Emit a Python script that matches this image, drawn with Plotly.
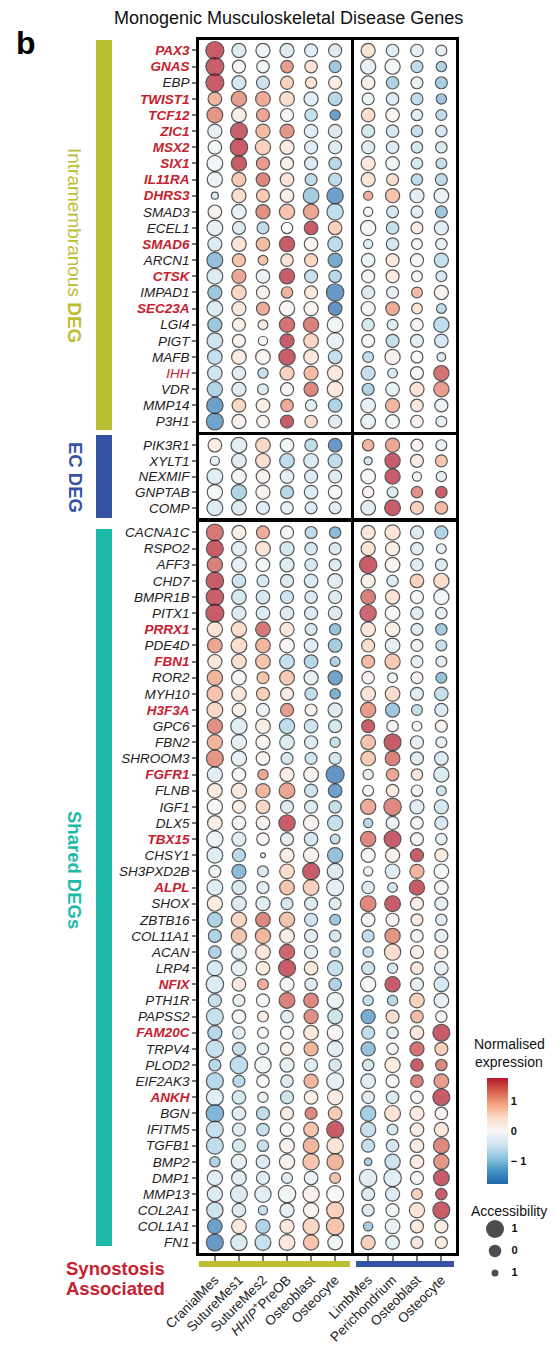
import plotly.graph_objects as go

W, H = 557, 1345

# ---------------- data ----------------
cranial_cells = ["CranialMes", "SutureMes1", "SutureMes2", "HHIP+PreOB", "Osteoblast", "Osteocyte"]
cranial_tick_text = ["CranialMes", "SutureMes1", "SutureMes2", "<i>HHIP</i><sup>+</sup>PreOB", "Osteoblast", "Osteocyte"]
limb_cells = ["LimbMes", "Perichondrium", "Osteoblast", "Osteocyte"]

intra_genes = ["PAX3", "GNAS", "EBP", "TWIST1", "TCF12", "ZIC1", "MSX2", "SIX1", "IL11RA", "DHRS3",
               "SMAD3", "ECEL1", "SMAD6", "ARCN1", "CTSK", "IMPAD1", "SEC23A", "LGI4", "PIGT", "MAFB",
               "IHH", "VDR", "MMP14", "P3H1"]
ec_genes = ["PIK3R1", "XYLT1", "NEXMIF", "GNPTAB", "COMP"]
shared_genes = ["CACNA1C", "RSPO2", "AFF3", "CHD7", "BMPR1B", "PITX1", "PRRX1", "PDE4D", "FBN1", "ROR2",
                "MYH10", "H3F3A", "GPC6", "FBN2", "SHROOM3", "FGFR1", "FLNB", "IGF1", "DLX5", "TBX15",
                "CHSY1", "SH3PXD2B", "ALPL", "SHOX", "ZBTB16", "COL11A1", "ACAN", "LRP4", "NFIX", "PTH1R",
                "PAPSS2", "FAM20C", "TRPV4", "PLOD2", "EIF2AK3", "ANKH", "BGN", "IFITM5", "TGFB1", "BMP2",
                "DMP1", "MMP13", "COL2A1", "COL1A1", "FN1"]

synostosis_genes = ["PAX3", "GNAS", "TWIST1", "TCF12", "ZIC1", "MSX2", "SIX1", "IL11RA", "DHRS3", "SMAD6",
                    "CTSK", "SEC23A", "IHH", "PRRX1", "FBN1", "H3F3A", "FGFR1", "TBX15", "ALPL", "NFIX",
                    "FAM20C", "ANKH"]

# normalised expression, columns: 6 cranial + 4 limb cell types
intra_expr = [
    [2.0, -0.45, -0.15, -0.45, -0.4, -0.45, 0.45, -0.37, -0.3, -0.3],
    [1.72, 0.08, -0.08, 1.18, 0.45, -1.04, -0.3, -0.08, -0.74, -0.9],
    [1.9, -0.52, -0.6, 0.67, 0.45, 0.3, 0.22, -0.9, -0.22, -0.97],
    [0.97, 1.18, 1.04, 0.52, -0.37, -0.82, -0.22, -0.45, -0.74, -1.04],
    [1.25, 0.22, 1.1, 0.08, -0.67, -1.56, 0.52, 0.08, -0.37, -0.74],
    [-0.3, 1.72, 0.9, 1.25, -0.37, -0.45, -0.52, -0.52, -0.67, -0.52],
    [-0.08, 2.0, 0.67, 0.3, -0.37, -0.45, -0.37, -0.45, -0.52, -0.45],
    [-0.15, 1.9, 1.18, 0.22, -0.45, -0.82, 0.37, -0.08, -0.52, -0.67],
    [-0.22, 0.74, 1.37, 0.45, -0.74, -0.74, 0.45, 0.52, -0.74, -0.74],
    [-0.45, 0.52, 0.74, 0.22, -0.97, -1.56, 1.04, 0.82, -0.37, -0.22],
    [0.15, -0.3, 1.3, 0.82, 1.1, -0.74, 0.0, -0.52, -0.37, -1.04],
    [-0.3, -0.45, -0.74, 0.0, 1.8, 0.67, -0.08, -0.67, 0.3, -0.37],
    [-0.45, 0.45, 0.9, 1.9, 0.08, -0.74, -0.45, -0.52, -0.08, -0.3],
    [-1.1, 0.82, 0.82, 0.45, 0.6, -1.43, -0.22, 0.37, -0.08, -0.67],
    [-0.45, 1.1, -0.22, 1.85, -0.67, -0.82, -0.08, 0.3, -0.08, -0.52],
    [-1.04, 0.6, 0.15, 0.97, 0.37, -1.65, -0.45, -0.3, 0.9, 0.15],
    [-0.45, 0.37, 1.04, 0.08, 0.08, -1.72, -0.08, 1.04, 0.45, -0.74],
    [-1.04, 0.22, 0.22, 1.56, 1.43, -0.15, -0.52, -0.45, 0.08, -0.74],
    [-0.6, 0.15, 0.0, 1.9, 0.6, -0.22, -0.08, -0.67, -0.3, -0.52],
    [-0.67, 0.3, 0.08, 1.95, 0.37, -0.67, -0.74, 0.15, 0.0, -0.45],
    [-0.6, -0.37, -0.67, 0.67, 0.9, 0.37, -0.67, -0.52, -0.08, 1.56],
    [-0.9, -0.37, -0.45, 0.08, 1.37, 0.37, -0.9, -0.3, 0.45, 1.18],
    [-1.56, 0.6, 0.22, 1.04, -0.37, -0.9, -0.3, 0.97, 0.37, -0.22],
    [-1.5, 0.15, 0.08, 1.9, 0.52, -0.37, -0.22, -0.08, 0.15, -0.3],
]
intra_acc = [
    [1.0, 0.3, 0.3, 0.3, 0.1, 0.1, 0.3, 0.0, 0.0, -0.3],
    [1.0, 0.1, 0.0, 0.0, 0.0, -0.1, 0.5, 0.5, -0.1, -0.4],
    [1.0, 0.3, 0.1, 0.1, -0.2, 0.1, 0.2, 0.0, -0.1, -0.1],
    [0.2, 0.5, 0.4, 0.4, 0.3, 0.2, -0.1, 0.0, -0.1, -0.4],
    [0.6, 0.4, 0.1, 0.1, 0.0, -0.4, 0.2, 0.2, -0.2, -0.3],
    [0.3, 0.8, 0.3, 0.3, 0.2, 0.2, 0.1, 0.0, -0.2, -0.2],
    [0.2, 0.9, 0.5, 0.3, 0.1, 0.1, 0.1, 0.0, -0.2, -0.2],
    [0.6, 0.5, 0.1, 0.1, 0.1, 0.0, 0.3, 0.2, -0.2, -0.3],
    [0.5, 0.3, 0.2, 0.2, -0.1, 0.1, 0.3, -0.1, -0.2, -0.1],
    [-1.0, 0.3, 0.1, 0.2, 0.6, 0.7, -0.6, 0.3, 0.3, 0.4],
    [0.2, 0.4, 0.3, 0.5, 0.5, 0.7, -0.6, -0.1, -0.1, -0.1],
    [0.6, 0.1, -0.1, -0.2, 0.2, 0.2, 0.5, 0.0, -0.1, 0.3],
    [0.3, 0.4, 0.2, 0.5, 0.2, 0.4, -0.6, 0.0, -0.3, -0.2],
    [0.6, 0.1, -0.5, 0.0, 0.1, 0.3, 0.2, 0.1, 0.1, 0.3],
    [0.6, 0.3, 0.2, 0.5, 0.1, 0.0, 0.1, 0.1, -0.3, -0.3],
    [0.3, 0.4, 0.1, -0.2, 0.1, 0.9, 0.1, -0.1, -0.3, 0.3],
    [0.6, 0.3, 0.1, 0.5, 0.3, 0.2, 0.3, 0.2, -0.3, -0.5],
    [0.3, 0.1, -0.5, 0.5, 0.5, 0.6, 0.0, -0.3, 0.0, 0.5],
    [0.6, 0.1, -0.6, 0.3, 0.4, 0.7, 0.1, 0.1, 0.1, 0.2],
    [0.4, 0.4, 0.4, 0.7, 0.4, 0.2, -0.3, 0.5, -0.1, -0.7],
    [0.4, 0.2, -0.4, 0.3, 0.3, 0.5, 0.3, -0.5, 0.1, 0.5],
    [0.5, 0.3, -0.3, 0.1, 0.3, 0.6, -0.1, 0.2, 0.3, 0.5],
    [0.7, 0.2, 0.2, 0.0, -0.2, 0.2, 0.4, 0.3, 0.0, 0.1],
    [0.8, 0.3, 0.0, 0.1, 0.0, 0.1, 0.4, 0.2, 0.0, -0.3],
]

ec_expr = [
    [0.22, -0.37, 0.6, -0.15, -0.74, -1.65, 0.97, 1.1, 0.15, -0.22],
    [-0.3, -0.37, 0.52, -0.74, -0.45, -0.74, -0.52, 1.9, 0.3, 0.82],
    [-0.37, -0.08, 0.15, -0.3, -0.45, -0.45, -0.08, 1.9, -0.08, -0.3],
    [-0.08, -0.9, 0.15, -0.82, -0.45, -0.08, 0.15, -0.45, 1.3, 1.72],
    [-0.45, -0.45, -0.37, -0.3, -0.45, -0.37, -0.37, 1.95, 0.67, 0.9],
]
ec_acc = [
    [0.2, 0.6, 0.4, 0.2, 0.0, 0.2, -0.2, 0.3, -0.1, -0.3],
    [-0.6, 0.4, 0.4, 0.4, 0.4, 0.3, -0.8, 0.5, 0.1, -0.1],
    [0.6, 0.4, 0.2, 0.2, 0.1, 0.1, 0.4, 0.5, -0.6, -0.4],
    [0.5, 0.5, 0.3, 0.1, 0.2, 0.2, -0.2, -0.3, -0.2, -0.2],
    [0.6, 0.4, 0.1, 0.0, -0.1, -0.1, 0.4, 0.6, 0.1, 0.0],
]

shared_expr = [
    [1.5, 0.22, 1.04, -0.08, -0.74, -1.18, 0.37, 0.45, -0.45, -0.9],
    [1.95, -0.37, 0.45, -0.52, -0.52, -0.45, 0.45, 0.22, -0.37, -0.3],
    [1.43, -0.3, -0.08, -0.45, -0.52, -0.45, 2.0, 0.08, -0.37, -0.45],
    [2.0, -0.6, -0.52, -0.45, -0.45, -0.37, 0.22, -0.45, 0.67, 0.52],
    [1.72, -0.52, -0.52, -0.6, -0.45, -0.45, 1.43, 0.45, -0.08, -0.15],
    [1.95, -0.45, -0.45, -0.45, -0.45, -0.45, 1.65, 0.0, -0.37, -0.3],
    [0.45, 0.52, 1.5, 0.37, -0.52, -1.1, 0.37, 0.22, -0.45, -0.97],
    [1.1, 0.52, 0.97, 0.08, -0.37, -0.97, 0.52, -0.3, -0.15, -0.67],
    [0.37, 0.52, 0.82, -0.67, -0.82, -0.9, 0.9, 0.74, -0.3, -0.37],
    [0.97, -0.08, 0.82, 0.74, -0.3, -1.5, 0.15, -0.15, 0.15, -1.1],
    [0.82, 0.37, 0.67, 0.3, -0.74, -1.3, 0.45, 0.52, -0.37, -0.67],
    [0.6, 0.22, -0.22, 1.18, 0.15, -0.45, 1.18, -1.04, -0.67, -0.45],
    [1.3, -0.37, 0.22, -0.74, -0.6, -0.52, 1.72, -0.08, -0.08, 0.15],
    [0.97, -0.3, 0.08, -0.45, -0.45, -0.67, 0.82, 1.9, -0.3, -0.3],
    [1.25, -0.3, 0.08, -0.52, -0.6, -0.52, 0.74, 1.43, -0.37, -0.45],
    [-0.37, -0.08, 1.1, 0.3, 0.08, -1.72, -0.3, 1.1, 0.37, -0.45],
    [0.3, 0.37, 0.97, 1.1, -0.6, -1.56, 0.0, 0.3, -0.08, -0.6],
    [0.03, 0.3, 0.6, -0.45, -0.45, -0.67, 1.04, 1.37, -0.37, -0.52],
    [0.22, 0.08, 0.08, 1.9, 0.08, -0.67, -0.82, -0.22, 0.08, -0.52],
    [-0.22, -0.37, 0.08, -0.3, -0.52, -0.67, 1.37, 1.9, -0.15, -0.3],
    [-0.37, -0.82, 0.0, 0.3, 0.15, -1.1, -0.08, 0.15, 1.9, 0.3],
    [-0.15, -1.18, -0.45, 0.52, 1.85, -0.45, -0.08, -0.37, 0.97, -0.08],
    [-0.37, -0.52, -0.37, 0.82, 0.67, -0.3, -0.45, -0.52, 1.9, -0.08],
    [0.3, -0.45, -0.37, -0.52, -0.45, -0.45, 1.37, 1.85, 0.22, -0.3],
    [-0.9, 0.6, 1.37, 0.82, -0.6, -1.04, -0.08, 0.08, 0.3, -0.37],
    [-0.9, 0.82, 0.97, 0.3, -0.37, -0.52, -0.74, 1.25, -0.08, -0.3],
    [-0.9, -0.3, 0.37, 1.65, -0.3, -0.74, -0.67, 0.52, 0.22, 0.22],
    [-0.52, -0.3, 0.3, 1.9, 0.37, -0.67, -0.6, -0.52, 0.37, -0.3],
    [-0.45, 0.37, 1.04, 0.08, -0.45, -0.9, -0.05, 1.9, -0.3, -0.52],
    [-0.67, -0.3, -0.08, 1.43, 1.37, -0.22, -0.67, -0.82, 0.67, -0.3],
    [-0.67, -0.08, 0.22, -0.37, 1.3, -0.6, -1.37, 0.52, 0.9, 0.08],
    [-0.82, -0.37, -0.08, 0.0, 0.37, 0.08, -0.74, -0.3, 0.37, 1.9],
    [-0.67, -0.67, -0.3, 0.22, 0.97, -0.37, -1.1, -0.08, 1.56, 0.67],
    [-0.82, -0.74, -0.08, -0.3, -0.37, -0.52, -0.52, 0.3, 1.85, 1.37],
    [-0.82, -0.82, -0.08, -0.45, 0.97, -0.3, -0.37, -0.08, 1.43, 1.18],
    [-0.37, -0.52, -0.22, -0.6, 0.22, 0.3, -0.37, -0.45, 0.08, 1.95],
    [-1.25, -0.37, -0.74, 0.3, 1.37, 0.74, -0.97, 0.45, 0.3, 0.08],
    [-0.67, -0.45, -0.67, 0.0, 0.82, 1.8, -0.67, -0.52, 0.3, 0.37],
    [-0.74, -0.52, -0.67, 0.15, 0.97, 0.45, -0.67, -0.52, 0.3, 1.37],
    [-0.9, -0.3, -0.45, 0.15, 0.82, 0.97, -0.9, -0.6, 0.3, 1.25],
    [-0.37, -0.37, -0.37, -0.37, -0.22, 0.82, -0.37, -0.37, -0.08, 1.9],
    [-0.45, -0.45, -0.37, -0.15, 0.15, 0.03, -0.45, -0.45, 0.67, 1.9],
    [-0.6, -0.45, -0.67, -0.3, 0.15, 0.67, -0.45, -0.08, 0.45, 1.9],
    [-1.56, 0.37, -0.9, 0.37, 0.6, 0.82, -0.97, -0.22, 0.37, 0.22],
    [-1.65, -0.45, -0.67, 0.37, 0.82, -0.15, 0.67, -0.3, 0.37, 0.3],
]
shared_acc = [
    [0.8, 0.3, 0.1, 0.1, -0.1, -0.2, 0.3, 0.5, 0.1, 0.1],
    [0.8, 0.4, 0.4, 0.3, 0.0, -0.1, 0.3, 0.3, 0.0, -0.5],
    [0.5, 0.4, 0.2, 0.3, 0.0, -0.1, 0.9, 0.4, 0.0, -0.1],
    [0.9, 0.2, -0.1, 0.1, 0.2, 0.4, 0.3, -0.2, 0.2, 0.5],
    [0.9, 0.4, 0.2, 0.1, 0.0, 0.1, 0.4, 0.3, 0.1, 0.5],
    [1.0, 0.3, 0.2, 0.2, 0.1, 0.2, 0.7, 0.4, 0.0, -0.2],
    [0.5, 0.5, 0.4, 0.3, -0.1, -0.2, 0.4, 0.4, -0.1, -0.2],
    [0.4, 0.6, 0.4, 0.4, 0.2, 0.2, 0.1, 0.4, -0.1, -0.3],
    [0.3, 0.4, 0.4, 0.4, 0.2, -0.5, 0.1, 0.5, -0.1, -0.3],
    [0.5, 0.4, -0.1, 0.4, 0.3, 0.3, 0.0, -0.5, -0.1, -0.3],
    [0.6, 0.4, 0.1, 0.1, 0.0, -0.4, 0.4, 0.4, 0.1, 0.2],
    [0.6, 0.2, 0.1, 0.1, -0.1, 0.3, 0.5, 0.3, -0.3, 0.1],
    [0.5, 0.7, 0.4, 0.5, 0.2, 0.1, 0.1, -0.2, -0.5, -0.1],
    [0.5, 0.5, 0.3, 0.4, 0.1, -0.4, 0.4, 0.8, 0.1, -0.3],
    [0.8, 0.5, 0.2, -0.1, -0.1, -0.1, 0.4, 0.4, 0.1, 0.2],
    [0.5, 0.2, -0.4, 0.3, 0.4, 1.0, -0.4, 0.0, -0.2, 0.5],
    [0.4, 0.5, 0.3, 0.6, 0.1, 0.2, -0.3, 0.0, -0.2, -0.5],
    [0.5, 0.1, 0.2, 0.1, 0.1, 0.0, 0.5, 0.9, 0.3, 0.3],
    [0.4, 0.2, 0.2, 0.7, 0.5, 0.5, -0.6, 0.1, 0.0, 0.1],
    [0.7, 0.3, 0.0, 0.1, 0.2, -0.5, 0.5, 0.8, 0.1, -0.2],
    [0.6, 0.1, -1.4, 0.3, 0.5, 0.5, 0.3, 0.3, 0.1, 0.1],
    [-0.1, 0.3, -0.3, 0.4, 0.8, 0.6, -0.6, 0.4, 0.3, 0.4],
    [0.6, 0.3, -0.1, 0.4, 0.6, 0.8, 0.0, -0.5, 0.5, 0.2],
    [0.5, 0.4, 0.3, -0.1, 0.1, -0.1, 0.6, 0.6, 0.1, 0.1],
    [0.4, 0.5, 0.4, 0.5, 0.1, -0.3, 0.2, 0.1, -0.1, -0.2],
    [0.1, 0.5, 0.5, 0.4, 0.1, -0.2, -0.1, 0.5, 0.0, 0.1],
    [0.0, 0.4, 0.4, 0.5, 0.1, -0.4, -0.4, 0.7, 0.1, 0.1],
    [0.5, 0.5, 0.2, 0.8, 0.2, 0.5, 0.1, -0.4, 0.0, 0.2],
    [0.9, 0.2, -0.3, 0.3, 0.0, 0.0, 0.5, 0.5, 0.1, 0.4],
    [0.1, -0.1, 0.1, 0.6, 0.4, 0.7, -0.4, -0.4, 0.4, 0.4],
    [0.8, 0.2, -0.3, 0.0, 0.3, 0.4, 0.3, 0.1, 0.0, -0.2],
    [0.3, 0.0, -0.3, 0.1, 0.4, 0.6, 0.1, -0.2, 0.2, 0.8],
    [0.9, 0.1, -0.2, 0.1, 0.3, 0.6, 0.3, -0.2, 0.3, 0.1],
    [-0.1, 0.9, 0.7, 0.3, 0.1, 0.0, -0.2, 0.5, 0.0, -0.2],
    [0.8, -0.1, 0.0, 0.0, 0.3, 0.8, 0.4, 0.1, 0.0, 0.4],
    [0.8, 0.2, -0.4, 0.1, 0.2, 0.5, 0.0, 0.0, 0.0, 0.8],
    [0.9, 0.2, 0.1, 0.1, -0.1, 0.2, 0.5, 0.6, 0.3, 0.0],
    [0.8, 0.1, 0.0, 0.2, 0.4, 0.8, 0.5, -0.3, 0.2, 0.3],
    [0.8, 0.1, -0.2, 0.4, 0.6, 0.7, 0.1, 0.0, 0.2, 0.6],
    [-0.4, 0.5, 0.2, 0.5, 0.7, 0.7, -0.9, 0.5, 0.2, 0.5],
    [0.5, 0.4, 0.1, -0.3, 0.2, -0.3, 0.9, 0.9, 0.1, 0.6],
    [0.5, 0.8, 0.7, 0.9, 0.7, 0.8, 0.1, 0.3, -0.3, -0.2],
    [0.7, 0.2, -0.6, 0.3, 0.5, 0.8, -0.1, 0.1, 0.5, 0.8],
    [0.4, 0.4, 0.3, 0.3, 0.7, 0.9, -0.6, 0.4, 0.1, 0.1],
    [0.8, 0.7, 0.6, 0.6, 0.5, 0.4, 0.3, 0.2, -0.1, -0.1],
]

legend_access = [1, 0, -1]
legend_access_labels = ["1", "0", "1"]
colorbar_ticks = [-1, 0, 1]
colorbar_ticktext = ["\u2212 1", "0", "1"]

# ---------------- style ----------------
FONT = "Liberation Sans, Arial, Helvetica, sans-serif"
RED = "#C8202F"
OLIVE = "#BCBE31"
BLUE = "#3453A4"
TEAL = "#1DBAA7"
colorscale = [[0.0, "#2166AC"], [0.125, "#4393C3"], [0.25, "#92C5DE"], [0.375, "#D1E5F0"],
              [0.5, "#F7F7F7"], [0.625, "#FDDBC7"], [0.75, "#F4A582"], [0.875, "#D6604D"],
              [1.0, "#B2182B"]]


def px_x(p):
    return p / W


def px_y(p):
    return 1 - p / H


def dot_size(a):
    return max(4.5, 12.5 + 5.5 * a)


def gene_label(g):
    if g in synostosis_genes:
        w = "" if g == "IHH" else "<b>"
        we = "" if g == "IHH" else "</b>"
        return f"{w}<i><span style='color:{RED}'>{g}</span></i>{we}"
    return f"<i><span style='color:#222'>{g}</span></i>"


groups = [
    (intra_genes, intra_expr, intra_acc, 40, 432),
    (ec_genes, ec_expr, ec_acc, 435, 518),
    (shared_genes, shared_expr, shared_acc, 522, 1253),
]
panels = [
    (cranial_cells, cranial_tick_text, 0, 199, 351, 0.66, 0.66),
    (limb_cells, limb_cells, 6, 354, 456, 0.58, 0.6),
]

fig = go.Figure()
layout_axes = {}
idx = 0
for gi, (genes, expr, acc, ytop, ybot) in enumerate(groups):
    for pi, (cells, ticktext, off, xl, xr, padl, padr) in enumerate(panels):
        idx += 1
        xs, ys, cs, ss = [], [], [], []
        for r, g in enumerate(genes):
            for j, c in enumerate(cells):
                xs.append(c)
                ys.append(g)
                cs.append(expr[r][off + j])
                ss.append(dot_size(acc[r][off + j]))
        fig.add_trace(go.Scatter(
            x=xs, y=ys, mode="markers", xaxis=f"x{idx}", yaxis=f"y{idx}",
            marker=dict(color=cs, coloraxis="coloraxis", size=ss,
                        line=dict(color="#111", width=1.2)),
            showlegend=False, hoverinfo="skip"))
        bottom = gi == len(groups) - 1
        left = pi == 0
        n = len(genes)
        layout_axes[f"xaxis{idx}"] = dict(
            domain=[px_x(xl), px_x(xr)], anchor=f"y{idx}", type="category",
            categoryorder="array", categoryarray=cells,
            range=[-padl, len(cells) - 1 + padr],
            showline=True, mirror=True, linecolor="black", linewidth=2.6,
            showgrid=False, zeroline=False,
            tickvals=cells, ticktext=ticktext,
            showticklabels=bottom, ticks="outside" if bottom else "",
            ticklen=5, tickwidth=1.6, tickcolor="#777", tickangle=-45,
            ticklabelstandoff=6,
            tickfont=dict(family=FONT, size=13.5, color="#222"),
            automargin=False, fixedrange=True)
        layout_axes[f"yaxis{idx}"] = dict(
            domain=[px_y(ybot), px_y(ytop)], anchor=f"x{idx}", type="category",
            categoryorder="array", categoryarray=genes,
            range=[n - 1 + 0.65, -0.65],
            showline=True, mirror=True, linecolor="black", linewidth=2.6,
            showgrid=False, zeroline=False,
            tickvals=genes, ticktext=[gene_label(g) for g in genes],
            showticklabels=left, ticks="outside" if left else "",
            ticklen=4, tickwidth=1.6, tickcolor="#777",
            tickfont=dict(family=FONT, size=13.5, color="#222"),
            automargin=False, fixedrange=True)

# accessibility key on its own hidden axes
key_pos = list(range(len(legend_access)))
fig.add_trace(go.Scatter(
    x=[0] * len(legend_access), y=key_pos, mode="markers", xaxis="x7", yaxis="y7",
    marker=dict(color="black", size=[dot_size(a) for a in legend_access], line=dict(width=0)),
    showlegend=False, hoverinfo="skip"))
fig.add_trace(go.Scatter(
    x=[1.1] * len(legend_access), y=key_pos, mode="text", xaxis="x7", yaxis="y7",
    text=legend_access_labels, textposition="middle right",
    textfont=dict(family=FONT, size=11, color="#111", weight="bold"),
    showlegend=False, hoverinfo="skip"))
layout_axes["xaxis7"] = dict(domain=[px_x(480), px_x(540)], anchor="y7", range=[-1, 3],
                             visible=False, fixedrange=True)
layout_axes["yaxis7"] = dict(domain=[px_y(1284), px_y(1218)], anchor="x7", range=[2.5, -0.5],
                             visible=False, fixedrange=True)

shapes = [
    dict(type="rect", xref="paper", yref="paper", x0=px_x(96), x1=px_x(112), y0=px_y(430), y1=px_y(40),
         fillcolor=OLIVE, line=dict(width=0)),
    dict(type="rect", xref="paper", yref="paper", x0=px_x(96), x1=px_x(112), y0=px_y(518), y1=px_y(435),
         fillcolor=BLUE, line=dict(width=0)),
    dict(type="rect", xref="paper", yref="paper", x0=px_x(96), x1=px_x(112), y0=px_y(1246), y1=px_y(529),
         fillcolor=TEAL, line=dict(width=0)),
    dict(type="rect", xref="paper", yref="paper", x0=px_x(199), x1=px_x(350), y0=px_y(1267), y1=px_y(1261),
         fillcolor=OLIVE, line=dict(width=0)),
    dict(type="rect", xref="paper", yref="paper", x0=px_x(356), x1=px_x(454), y0=px_y(1267), y1=px_y(1261),
         fillcolor=BLUE, line=dict(width=0)),
]


def ann(text, x, y, size, color="#111", angle=0, xanchor="center", **kw):
    return dict(text=text, x=px_x(x), y=px_y(y), xref="paper", yref="paper", showarrow=False,
                xanchor=xanchor, yanchor="middle", textangle=angle,
                font=dict(family=FONT, size=size, color=color, **kw))


annotations = [
    ann("Monogenic Musculoskeletal Disease Genes", 288, 18, 18),
    ann("<b>b</b>", 26, 43, 32, "#000"),
    ann("Intramembranous <b>DEG</b>", 75, 245, 19, OLIVE, angle=90),
    ann("<b>EC DEG</b>", 75, 477, 18.5, BLUE, angle=90),
    ann("<b>Shared DEGs</b>", 75, 870, 18.5, TEAL, angle=90),
    ann("<b>Synostosis</b>", 115, 1268, 18.5, RED),
    ann("<b>Associated</b>", 115, 1288, 18.5, RED),
    ann("Normalised", 509, 1044, 14),
    ann("expression", 509, 1062, 14),
    ann("Accessibility", 509, 1211, 14),
]

fig.update_layout(
    width=W, height=H, autosize=False, template="none",
    margin=dict(l=0, r=0, t=0, b=0, pad=0),
    paper_bgcolor="white", plot_bgcolor="white",
    font=dict(family=FONT, color="#111"),
    showlegend=False,
    coloraxis=dict(
        colorscale=colorscale, cmin=-1.75, cmax=1.75,
        colorbar=dict(
            x=px_x(487), xanchor="left", xref="paper",
            y=px_y(1131), yanchor="middle", yref="paper",
            len=106, lenmode="pixels", thickness=21, thicknessmode="pixels",
            xpad=0, ypad=0, outlinewidth=0, ticks="",
            tickvals=colorbar_ticks, ticktext=colorbar_ticktext,
            tickfont=dict(family=FONT, size=11, color="#111", weight="bold"),
        ),
    ),
    shapes=shapes,
    annotations=annotations,
    **layout_axes,
)

fig.write_html("out.html", config={"displayModeBar": False},
               post_script="document.body.style.margin='0';document.body.style.overflow='hidden';")
